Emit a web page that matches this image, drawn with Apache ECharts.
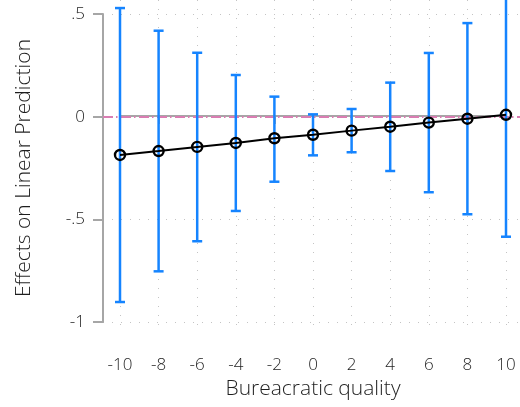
<!DOCTYPE html>
<html>
<head>
<meta charset="utf-8">
<script src="https://cdn.jsdelivr.net/npm/echarts@6/dist/echarts.min.js"></script>
<style>
  html, body { margin: 0; padding: 0; background: #fff; }
  #chart { width: 520px; height: 407px; }
</style>
</head>
<body>
<div id="chart"></div>
<script>
// Bureaucratic quality values (x)
const xValues = [-10, -8, -6, -4, -2, 0, 2, 4, 6, 8, 10]
// point estimates
const estimate = [-0.189, -0.170, -0.150, -0.131, -0.108, -0.091, -0.071, -0.052, -0.032, -0.013, 0.006]
// confidence interval bounds
const upper = [0.524, 0.414, 0.307, 0.199, 0.094, 0.008, 0.034, 0.162, 0.306, 0.451, 0.598]
const lower = [-0.903, -0.754, -0.608, -0.461, -0.319, -0.191, -0.176, -0.267, -0.370, -0.477, -0.586]
const yTickLabels = { '-1': '-1', '-0.5': '-.5', '0': '0', '0.5': '.5' }

const font = '"Open Sans", "Noto Sans", sans-serif'
const textColor = '#1e1e1e'
const axisGray = '#a6a6a6'
const gridGray = '#c4c4c4'

const chart = echarts.init(document.getElementById('chart'))

chart.setOption({
  animation: false,
  grid: [
    // data grid: x from -10 to 10
    { left: 120, right: 14, top: 0, bottom: 77 },
    // y axis grid: .5 down to -1
    { left: 103, right: 0, top: 14, height: 308 }
  ],
  xAxis: [
    {
      gridIndex: 0,
      type: 'value',
      min: -10,
      max: 10,
      interval: 2,
      offset: 7,
      name: 'Bureacratic quality',
      nameLocation: 'middle',
      nameGap: 42,
      nameTextStyle: { fontFamily: font, fontSize: 21, fontWeight: 300, color: textColor, verticalAlign: 'top' },
      axisLine: { lineStyle: { color: axisGray, width: 2 } },
      axisTick: { length: 8, lineStyle: { color: axisGray, width: 2 } },
      axisLabel: { margin: 20, fontFamily: font, fontSize: 17, fontWeight: 300, color: textColor },
      splitLine: { show: true, lineStyle: { color: gridGray, type: [1, 8], width: 1 } }
    },
    {
      gridIndex: 1,
      type: 'value',
      min: 0,
      max: 1,
      show: false
    }
  ],
  yAxis: [
    {
      gridIndex: 0,
      type: 'value',
      min: -1.0388,
      max: 0.5631,
      show: false,
      splitLine: { show: false }
    },
    {
      gridIndex: 1,
      type: 'value',
      min: -1,
      max: 0.5,
      interval: 0.5,
      name: 'Effects on Linear Prediction',
      nameLocation: 'middle',
      nameGap: 68,
      nameTextStyle: { fontFamily: font, fontSize: 21, fontWeight: 300, color: textColor },
      axisLine: { show: true, lineStyle: { color: axisGray, width: 2 } },
      axisTick: { show: true, length: 10, lineStyle: { color: axisGray, width: 2 } },
      axisLabel: {
        margin: 18,
        fontFamily: font,
        fontSize: 17,
        fontWeight: 300,
        color: textColor,
        formatter: v => yTickLabels[String(v)] !== undefined ? yTickLabels[String(v)] : v
      },
      splitLine: { show: true, lineStyle: { color: gridGray, type: [1, 8], width: 1 } }
    }
  ],
  series: [
    {
      // reference line at zero
      type: 'line',
      xAxisIndex: 1,
      yAxisIndex: 1,
      data: [],
      silent: true,
      z: 5,
      markLine: {
        symbol: 'none',
        silent: true,
        z: 5,
        label: { show: false },
        emphasis: { disabled: true },
        lineStyle: { color: '#d97db2', width: 2, type: [10, 3, 1.5, 3.5], opacity: 1 },
        data: [{ yAxis: 0 }]
      }
    },
    {
      // confidence intervals
      type: 'custom',
      xAxisIndex: 0,
      yAxisIndex: 0,
      z: 6,
      clip: false,
      data: xValues.map((x, i) => [x, lower[i], upper[i]]),
      renderItem: function (params, api) {
        const lo = api.coord([api.value(0), api.value(1)])
        const hi = api.coord([api.value(0), api.value(2)])
        const cap = 5
        const style = { stroke: '#1584ff', lineWidth: 2.5 }
        return {
          type: 'group',
          children: [
            { type: 'line', shape: { x1: lo[0], y1: lo[1], x2: hi[0], y2: hi[1] }, style: style },
            { type: 'line', shape: { x1: lo[0] - cap, y1: lo[1], x2: lo[0] + cap, y2: lo[1] }, style: style },
            { type: 'line', shape: { x1: hi[0] - cap, y1: hi[1], x2: hi[0] + cap, y2: hi[1] }, style: style }
          ]
        }
      }
    },
    {
      // point estimates
      type: 'line',
      xAxisIndex: 0,
      yAxisIndex: 0,
      z: 7,
      clip: false,
      data: xValues.map((x, i) => [x, estimate[i]]),
      symbol: 'circle',
      symbolSize: 10,
      showSymbol: true,
      lineStyle: { color: '#000', width: 2 },
      itemStyle: { color: 'rgba(0,0,0,0)', borderColor: '#000', borderWidth: 2.4 }
    }
  ]
})
</script>
</body>
</html>
